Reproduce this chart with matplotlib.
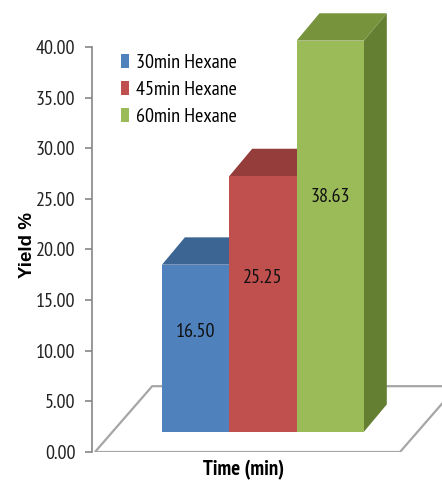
import matplotlib.pyplot as plt
from matplotlib.patches import Polygon
import numpy as np

# yield of extraction per hexane contact time
SERIES = ["30min Hexane", "45min Hexane", "60min Hexane"]
YIELD = [16.50, 25.25, 38.63]
Y_TICKS = [0, 5, 10, 15, 20, 25, 30, 35, 40]

FRONT = ["#4F81BD", "#C0504D", "#9BBB59"]
TOP = ["#3C6594", "#943D3B", "#77933C"]
SIDE = ["#34577F", "#7E3230", "#647E32"]

plt.rcParams["font.family"] = ["PT Sans Narrow", "DejaVu Sans"]

fig = plt.figure(figsize=(4.42, 4.84), dpi=100)
ax = fig.add_axes([92 / 442, 32 / 484, 350 / 442, 452 / 484])
ax.set_xlim(-1.54, 3.66)
ax.set_ylim(0, 44.64)

# profundidade do efeito 3D (em unidades de dados)
dx, dy = 0.34, 2.7
base = 2.0

# piso
piso = Polygon([(-1.496, 0), (3.036, 0), (3.036 + 0.85, 6.5), (-1.496 + 0.85, 6.5)],
               closed=True, facecolor="white", edgecolor="#A6A6A6", linewidth=1.6, zorder=1)
ax.add_patch(piso)

x = np.arange(len(YIELD))
for i, (xi, v) in enumerate(zip(x, YIELD)):
    l, r = xi - 0.5, xi + 0.5
    t = base + v
    lado = Polygon([(r, base), (r + dx, base + dy), (r + dx, t + dy), (r, t)],
                   closed=True, facecolor=SIDE[i], edgecolor="none", zorder=2 + i)
    topo = Polygon([(l, t), (r, t), (r + dx, t + dy), (l + dx, t + dy)],
                   closed=True, facecolor=TOP[i], edgecolor="none", zorder=2 + i)
    ax.add_patch(lado)
    ax.add_patch(topo)
    ax.bar(xi, v, width=1.0, bottom=base, color=FRONT[i], edgecolor="none",
           label=SERIES[i], zorder=2 + i)
    ax.text(xi, base + 0.6 * v, f"{v:.2f}", ha="center", va="center",
            fontsize=14.5, color="#111111", zorder=10)

ax.set_yticks(Y_TICKS)
ax.set_yticklabels([f"{t:.2f}" for t in Y_TICKS], fontsize=14.5, color="#222222")
ax.set_xticks([])
ax.tick_params(axis="y", length=5, width=1.2, color="#868686", pad=7)
ax.spines[["top", "right", "bottom"]].set_visible(False)
ax.spines["left"].set_bounds(0, 40)
ax.spines["left"].set_color("#868686")
ax.spines["left"].set_linewidth(1.2)
ax.patch.set_alpha(0)

fig.text(28 / 442, 1 - 245 / 484, "Yield %", rotation=90, ha="center", va="center",
         fontsize=13.5, fontweight="bold", family=["Liberation Sans", "DejaVu Sans"])
fig.text(244 / 442, 1 - 470 / 484, "Time (min)", ha="center", va="center",
         fontsize=15, fontweight="bold")

ax.legend(loc="upper left", bbox_to_anchor=(121 / 442, 1 - 54 / 484),
          bbox_transform=fig.transFigure, frameon=False, fontsize=14.5,
          handlelength=0.42, handleheight=0.7, handletextpad=0.3,
          labelspacing=0.45, borderpad=0, borderaxespad=0)

fig.savefig("out.png", dpi=100)
